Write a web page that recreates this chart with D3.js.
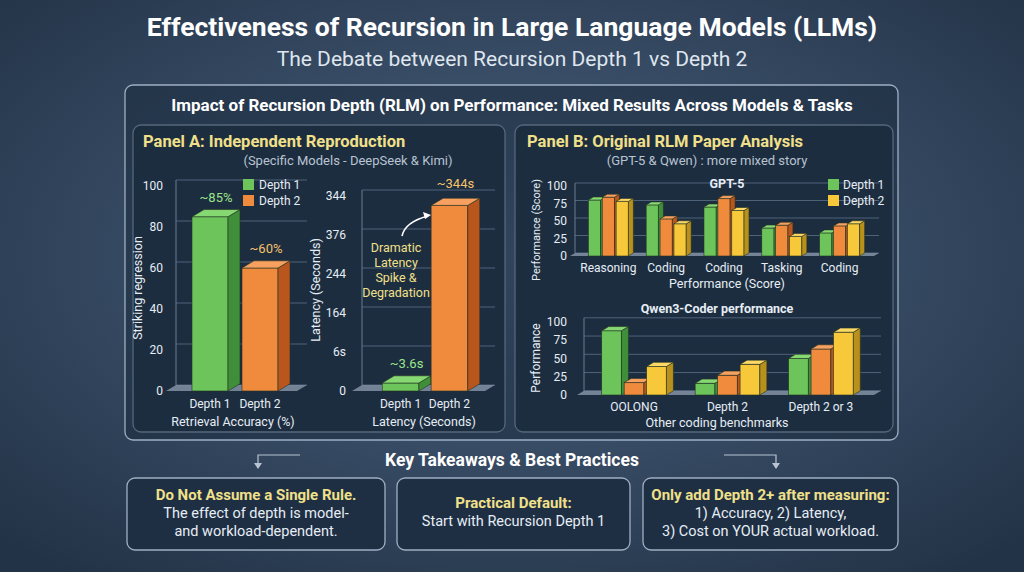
<!DOCTYPE html>
<html><head><meta charset="utf-8">
<script src="https://cdn.jsdelivr.net/npm/d3@7"></script>
<style>body{margin:0;background:#2c3e52}svg{display:block;font-family:Roboto,"Noto Sans",sans-serif}</style>
</head><body><svg id="c" width="1024" height="572"></svg>
<script>
// data
const accCats=["Depth 1","Depth 2"], accVals=[85,60], accTicks=[0,20,40,60,80,100];
const latCats=["Depth 1","Depth 2"], latVals=[3.6,344], latTickLabels=["0","6s","164","244","376","344"];
const gptCats=["Reasoning","Coding","Coding","Tasking","Coding"];
const gptD1=[80,73,70,40,33], gptD2=[84,53,82,44,43], gptD3=[78,46,65,28,46];
const qwenCats=["OOLONG","Depth 2","Depth 2 or 3"];
const qwenD1=[88,16,50], qwenD2=[17,27,63], qwenD3=[39,42,86];
const bTicks=[0,25,50,75,100];

const svg=d3.select("#c");
const defs=svg.append("defs");
const bg=defs.append("radialGradient").attr("id","bg").attr("cx","50%").attr("cy","45%").attr("r","70%");
bg.append("stop").attr("offset","0%").attr("stop-color","#4a6280");
bg.append("stop").attr("offset","100%").attr("stop-color","#233347");
svg.append("rect").attr("width",1024).attr("height",572).attr("fill","url(#bg)");

const col={g:["#6cc45a","#3f8f3a","#86d872"],o:["#f08a3c","#b8561e","#f7a060"],y:["#f7c83a","#b8901c","#fcd865"]};

function txt(x,y,t,o){o=o||{};return svg.append("text").attr("x",x).attr("y",y).attr("text-anchor",o.a||"middle")
  .attr("fill",o.c||"#e6edf5").attr("font-size",o.s||12).attr("font-weight",o.w||"normal").text(t);}
function box(x,y,w,h,f,s){svg.append("rect").attr("x",x).attr("y",y).attr("width",w).attr("height",h).attr("rx",8)
  .attr("fill",f).attr("stroke",s||"#9fb0c4").attr("stroke-width",1.3);}

txt(512,36,"Effectiveness of Recursion in Large Language Models (LLMs)",{s:26.5,w:"bold",c:"#fff"});
txt(512,66,"The Debate between Recursion Depth 1 vs  Depth 2",{s:21,c:"#dfe6ee"});
box(125,85,773,355,"rgba(28,44,62,0.55)");
txt(512,111,"Impact of Recursion Depth (RLM) on Performance: Mixed Results Across Models & Tasks",{s:17,w:"bold",c:"#fff"});
box(133,125,372,307,"#1d2d40","#55677c");
box(515,125,378,307,"#1d2d40","#55677c");
txt(143,147,"Panel A: Independent Reproduction",{a:"start",s:16.5,w:"bold",c:"#f1e08a"});
txt(348,165,"(Specific Models - DeepSeek & Kimi)",{s:13,c:"#b8c4d2"});
txt(527,147,"Panel B: Original RLM Paper Analysis",{a:"start",s:16.5,w:"bold",c:"#f1e08a"});
txt(707,165,"(GPT-5 & Qwen) : more mixed story",{s:13,c:"#b8c4d2"});

function bar3d(g,x,y0,y,w,c,d){
  const dx=d, dy=d*0.6;
  g.append("rect").attr("x",x).attr("y",y).attr("width",w).attr("height",Math.max(0,y0-y)).attr("fill",c[0]).attr("stroke","#243222").attr("stroke-width",0.6);
  g.append("path").attr("d",`M${x+w},${y}l${dx},${-dy}L${x+w+dx},${y0-dy}L${x+w},${y0}Z`).attr("fill",c[1]).attr("stroke","#243222").attr("stroke-width",0.6);
  g.append("path").attr("d",`M${x},${y}l${dx},${-dy}h${w}l${-dx},${dy}Z`).attr("fill",c[2]).attr("stroke","#243222").attr("stroke-width",0.6);
}
function grid(g,x0,x1,ys,d){
  ys.forEach(y=>g.append("line").attr("x1",x0+d).attr("x2",x1+d).attr("y1",y-d*0.6).attr("y2",y-d*0.6).attr("stroke","#4e6278").attr("stroke-width",1));
  const yb=ys[0];
  g.append("path").attr("d",`M${x0},${yb}l${d},${-d*0.6}H${x1+d}l${-d},${d*0.6}Z`).attr("fill","#8a99aa").attr("opacity",0.8);
  g.append("line").attr("x1",x0+d).attr("x2",x0+d).attr("y1",yb-d*0.6).attr("y2",ys[ys.length-1]-d*0.6).attr("stroke","#6a7d92");
}
const g=svg.append("g");

// Panel A accuracy
const yA=d3.scaleLinear().domain([0,100]).range([391,186]);
const xA=d3.scaleBand().domain(accCats).range([178,292]).padding(0.28);
grid(g,166,297,accTicks.map(yA),10);
accTicks.forEach(t=>txt(163,yA(t)+4,t,{a:"end",s:12}));
accCats.forEach((c,i)=>{bar3d(g,xA(c),yA(0),yA(accVals[i]),xA.bandwidth(),i?col.o:col.g,12);
  txt(xA(c)+xA.bandwidth()/2,408,c,{s:12});
  txt(xA(c)+xA.bandwidth()/2+6,yA(accVals[i])-15,"~"+accVals[i]+"%",{s:13,c:i?"#f6c26b":"#9be58a"});});
txt(233,426,"Retrieval Accuracy (%)",{s:12.5});
svg.append("text").attr("transform","translate(142,288) rotate(-90)").attr("text-anchor","middle").attr("fill","#e6edf5").attr("font-size",12.5).text("Striking regression");
[["Depth 1",col.g],["Depth 2",col.o]].forEach((l,i)=>{g.append("rect").attr("x",243).attr("y",179+i*16).attr("width",11).attr("height",11).attr("fill",l[1][0]);
  txt(259,189+i*16,l[0],{a:"start",s:12});});

// Panel A latency
const tickY=d3.scaleLinear().domain([0,5]).range([391,196]);
const yL=d3.scaleLinear().domain([0,380]).range([391,186]);
const xL=d3.scaleBand().domain(latCats).range([370,480]).padding(0.25);
grid(g,352,485,latTickLabels.map((t,i)=>tickY(i)),10);
latTickLabels.forEach((t,i)=>txt(346,tickY(i)+4,t,{a:"end",s:12}));
latCats.forEach((c,i)=>{bar3d(g,xL(c),yL(0),Math.min(yL(latVals[i]),yL(0)-8),xL.bandwidth(),i?col.o:col.g,12);
  txt(xL(c)+xL.bandwidth()/2,408,c,{s:12});
  txt(xL(c)+xL.bandwidth()/2+6,i?yL(latVals[i])-17:368,"~"+latVals[i]+"s",{s:13,c:i?"#f6c26b":"#9be58a"});});
txt(424,426,"Latency (Seconds)",{s:12.5});
svg.append("text").attr("transform","translate(320,290) rotate(-90)").attr("text-anchor","middle").attr("fill","#e6edf5").attr("font-size",12.5).text("Latency (Seconds)");
["Dramatic","Latency","Spike &","Degradation"].forEach((t,i)=>txt(396,252+i*15,t,{s:12.5,c:"#f1e08a"}));
svg.append("path").attr("d","M402,236 Q405,222 428,216").attr("fill","none").attr("stroke","#fff").attr("stroke-width",1.6);
svg.append("path").attr("d","M431,215 l-8,-3 l2,7z").attr("fill","#fff");

// Panel B
function grouped(cats,series,x0,x1,y0,y1,bw,d){
  const y=d3.scaleLinear().domain([0,100]).range([y0,y1]);
  const x=d3.scaleBand().domain(d3.range(cats.length)).range([x0,x1]).paddingInner(0.25).paddingOuter(0.15);
  const xs=d3.scaleBand().domain([0,1,2]).range([0,x.bandwidth()]).padding(0.12);
  grid(g,x0-8,x1+4,bTicks.map(y),d);
  bTicks.forEach(t=>txt(567,y(t)+4,t,{a:"end",s:12}));
  cats.forEach((c,i)=>{[col.g,col.o,col.y].forEach((cl,j)=>bar3d(g,x(i)+xs(j),y(0),y(series[j][i]),xs.bandwidth(),cl,d));
    txt(x(i)+x.bandwidth()/2,y0+16,c,{s:12});});
}
grouped(gptCats,[gptD1,gptD2,gptD3],578,870,256,186,10,5);
txt(727,188,"GPT-5",{s:12.5,w:"bold"});
txt(727,288,"Performance (Score)",{s:12.5});
svg.append("text").attr("transform","translate(540,230) rotate(-90)").attr("text-anchor","middle").attr("fill","#e6edf5").attr("font-size",11).text("Performance (Score)");
[["Depth 1",col.g],["Depth 2",col.y]].forEach((l,i)=>{g.append("rect").attr("x",828).attr("y",179+i*16).attr("width",11).attr("height",11).attr("fill",l[1][0]);
  txt(843,189+i*16,l[0],{a:"start",s:12});});
grouped(qwenCats,[qwenD1,qwenD2,qwenD3],585,870,395,322,17,7);
txt(717,313,"Qwen3-Coder performance",{s:12.5,w:"bold"});
txt(717,427,"Other coding benchmarks",{s:12.5});
svg.append("text").attr("transform","translate(540,358) rotate(-90)").attr("text-anchor","middle").attr("fill","#e6edf5").attr("font-size",12).text("Performance");

// Takeaways
txt(512,466,"Key Takeaways & Best Practices",{s:17.5,w:"bold",c:"#fff"});
[[300,455,258,468],[724,455,776,468]].forEach(a=>{svg.append("path").attr("d",`M${a[0]},${a[1]}H${a[2]}V${a[3]}`).attr("fill","none").attr("stroke","#b8c4d2").attr("stroke-width",1.2);
  svg.append("path").attr("d",`M${a[2]-4},${a[3]-5}l4,6l4,-6z`).attr("fill","#b8c4d2");});
const boxes=[[127,258,["Do Not Assume a Single Rule.","The effect of depth is model-","and workload-dependent."]],
  [397,233,["Practical Default:","Start with Recursion Depth 1"]],
  [643,255,["Only add Depth 2+ after measuring:","1) Accuracy,  2) Latency,","3) Cost on YOUR actual workload."]]];
boxes.forEach(b=>{box(b[0],478,b[1],72,"#1e2f43");
  const n=b[2].length, top=n===3?500:508;
  b[2].forEach((t,i)=>txt(b[0]+b[1]/2,top+i*18,t,{s:i?14.5:15,w:i?"normal":"bold",c:i?"#e6edf5":"#f1e08a"}));});
</script></body></html>
